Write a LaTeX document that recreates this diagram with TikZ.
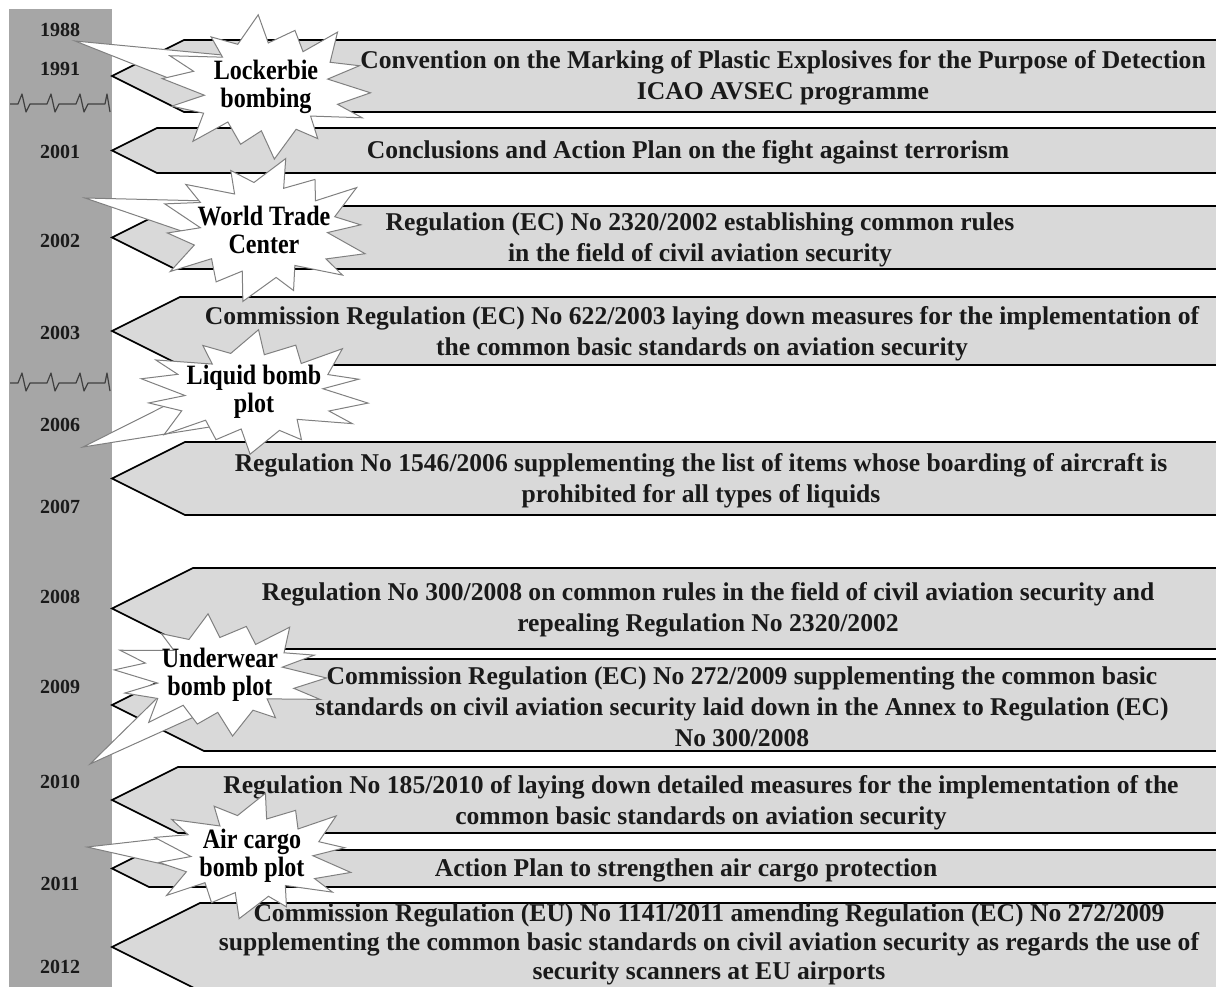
\documentclass[tikz,border=0pt]{standalone}
\usepackage{fontspec}
\setmainfont{Liberation Serif}
\newfontfamily\burstfont[FakeStretch=0.86]{Liberation Serif}
\usetikzlibrary{calc}
\definecolor{bargray}{HTML}{A6A6A6}
\definecolor{boxgray}{HTML}{D9D9D9}
\definecolor{inkgray}{HTML}{1A1A1A}
\tikzset{
	regbox/.style={draw=black, fill=boxgray, line width=0.8pt, line join=miter},
	regtext/.style={text=inkgray, align=center, font=\bfseries\fontsize{12.8}{15.5}\selectfont},
	year/.style={text=inkgray, font=\bfseries\fontsize{10}{12}\selectfont},
	burstline/.style={draw=gray, fill=white, line width=0.5pt, line join=miter},
	bursttext/.style={text=black, align=center, font=\burstfont\bfseries\fontsize{14}{14}\selectfont},
	breakline/.style={draw=black!75, line width=0.6pt}
}
\newcommand{\regarrow}[2]{%
	\pgfmathsetmacro\hh{(#2-#1)/2}
	\draw[regbox] (112,{#1+\hh}) -- ({112+2*\hh},#1) -- (1240,#1) -- (1240,#2) -- ({112+2*\hh},#2) -- cycle;}
\newcommand{\breakmark}[1]{%
	\draw[breakline] (10,#1) \foreach \s in {18,47,76}{ -- (\s,#1) -- (\s+4,#1-10) -- (\s+8,#1+8) -- (\s+12,#1)} -- (105,#1) -- (107,#1-10) -- (110,#1+8);}
\newcommand{\burst}[7]{%
	\coordinate (#1) at (#2);
	\coordinate (#1-tip) at (#5);
	\draw[burstline] (#1-tip) -- ($(#1)!14pt!90:(#1-tip)$) -- ($(#1)!14pt!-90:(#1-tip)$) -- cycle;
	\draw[burstline, shift={(#2)}] plot[samples=28, domain=0:27, variable=\k]
		({\k*360/28+#6+4*sin(\k*131)}:{#3*(1-0.33*mod(\k,2))*(1+0.1*sin(\k*77+#6))} and {#4*(1-0.33*mod(\k,2))*(1+0.1*sin(\k*77+#6))}) -- cycle;
	\node[bursttext] (#1-text) at (#2) {#7};}

\begin{document}
\begin{tikzpicture}[x=0.5pt, y=-0.5pt, line join=round]
	\useasboundingbox (0,0) rectangle (1216,986);
	\clip (0,0) rectangle (1216,986);
	\fill[bargray] (9,9) rectangle (112,990);
	\foreach \yr/\ypos in {1988/30,1991/69,2001/152,2002/241,2003/333,2006/425,2007/507,2008/597,2009/687,2010/782,2011/884,2012/967}
		\node[year] (y\yr) at (60,\ypos) {\yr};
	\breakmark{104}
	\breakmark{383}
	\regarrow{40}{112}
	\regarrow{128}{173}
	\regarrow{206}{269}
	\regarrow{297}{365}
	\regarrow{442}{515}
	\regarrow{568}{649}
	\regarrow{659}{751}
	\regarrow{767}{833}
	\regarrow{850}{887}
	\regarrow{903}{991}
	\node[regtext] (conv) at (783,78) {Convention on the Marking of Plastic Explosives for the Purpose of Detection\\ICAO AVSEC programme};
	\node[regtext] (plan) at (688,152) {Conclusions and Action Plan on the fight against terrorism};
	\node[regtext] (reg02) at (700,240) {Regulation (EC) No 2320/2002 establishing common rules\\in the field of civil aviation security};
	\node[regtext] (reg03) at (702,334) {Commission Regulation (EC) No 622/2003 laying down measures for the implementation of\\the common basic standards on aviation security};
	\node[regtext] (reg06) at (701,481) {Regulation No 1546/2006 supplementing the list of items whose boarding of aircraft is\\prohibited for all types of liquids};
	\node[regtext] (reg08) at (708,610) {Regulation No 300/2008 on common rules in the field of civil aviation security and\\repealing Regulation No 2320/2002};
	\node[regtext] (reg09) at (742,707) {Commission Regulation (EC) No 272/2009 supplementing the common basic\\standards on civil aviation security laid down in the Annex to Regulation (EC)\\No 300/2008};
	\node[regtext] (reg10) at (701,803) {Regulation No 185/2010 of laying down detailed measures for the implementation of the\\common basic standards on aviation security};
	\node[regtext] (cargo) at (686,870) {Action Plan to strengthen air cargo protection};
	\node[regtext, font=\bfseries\fontsize{12.8}{14.5}\selectfont] (reg11) at (709,944) {Commission Regulation (EU) No 1141/2011 amending Regulation (EC) No 272/2009\\supplementing the common basic standards on civil aviation security as regards the use of\\security scanners at EU airports};
	\burst{lock}{266,87}{104}{66}{75,41}{5}{Lockerbie\\bombing}
	\burst{wtc}{264,230}{104}{67}{85,198}{20}{World Trade\\Center}
	\burst{liq}{254,392}{114}{57}{83,447}{11}{Liquid bomb\\plot}
	\burst{under}{220,675}{106}{56}{90,764}{3}{Underwear\\bomb plot}
	\burst{air}{252,856}{100}{58}{87,847}{16}{Air cargo\\bomb plot}
\end{tikzpicture}
\end{document}
